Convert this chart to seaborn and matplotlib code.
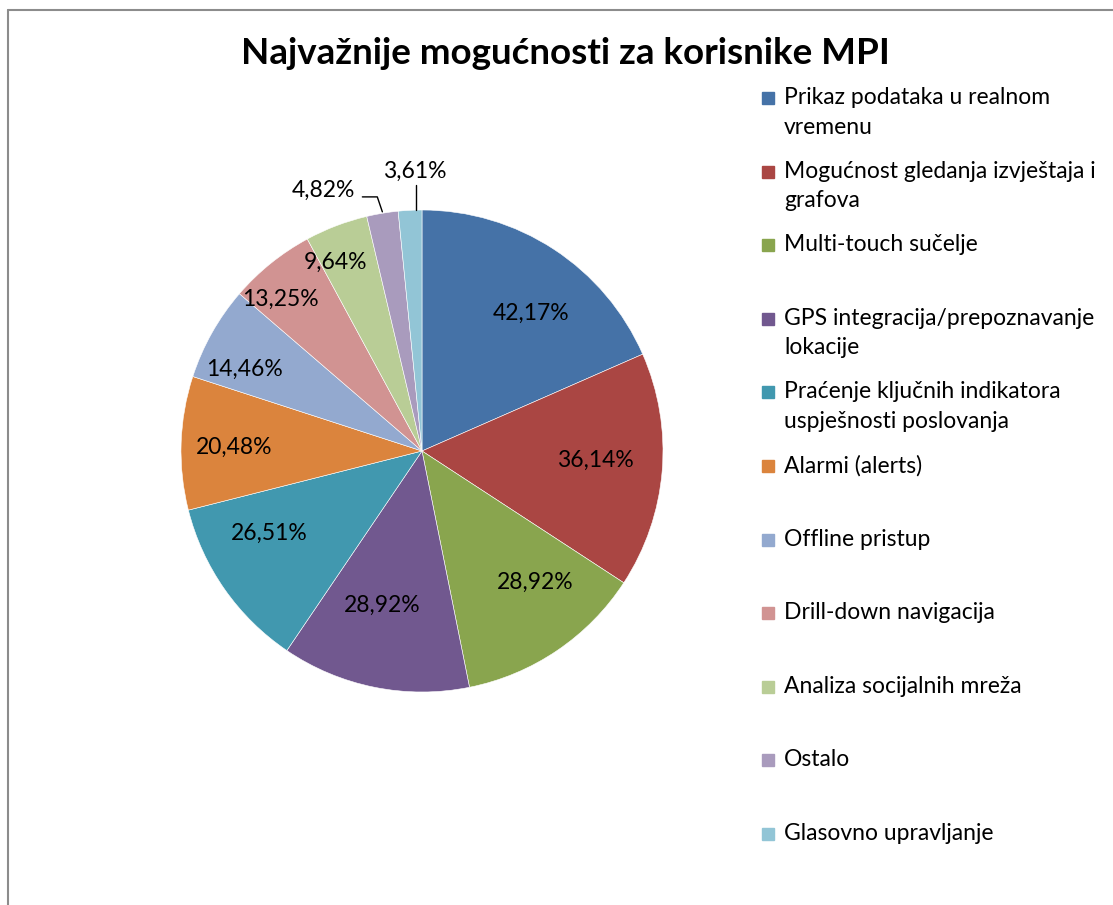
import numpy as np
import matplotlib
matplotlib.use('Agg')
import matplotlib.pyplot as plt
import seaborn as sns
from matplotlib.patches import Rectangle
from matplotlib.lines import Line2D

categories = [
    'Prikaz podataka u realnom\nvremenu',
    'Mogućnost gledanja izvještaja i\ngrafova',
    'Multi-touch sučelje',
    'GPS integracija/prepoznavanje\nlokacije',
    'Praćenje ključnih indikatora\nuspješnosti poslovanja',
    'Alarmi (alerts)',
    'Offline pristup',
    'Drill-down navigacija',
    'Analiza socijalnih mreža',
    'Ostalo',
    'Glasovno upravljanje',
]
values = [42.17, 36.14, 28.92, 28.92, 26.51, 20.48, 14.46, 13.25, 9.64, 4.82, 3.61]
colors = ['#4572A7', '#AA4643', '#89A54E', '#71588F', '#4198AF', '#DB843D',
          '#93A9CF', '#D19392', '#B9CD96', '#A99BBD', '#92C5D6']

# inside value labels: radius fraction and angle nudge (deg) from the wedge middle
label_r = [0.73, 0.72, 0.72, 0.66, 0.72, 0.78, 0.81, 0.86, 0.86, None, None]
label_da = [-5.3, 1.7, 6.7, -3.2, -6.9, 0.7, 4.7, 4.1, 3.9, 0, 0]

sns.set_style('white')
plt.rcParams['font.family'] = ['Lato', 'DejaVu Sans']

W, H = 1113, 905
fig = plt.figure(figsize=(W / 100, H / 100), dpi=100)

# chart frame (only left and top edges are visible)
fig.add_artist(Line2D([8 / W, 8 / W], [0, 1 - 10 / H], transform=fig.transFigure,
                      color='#8c8c8c', lw=1.5))
fig.add_artist(Line2D([8 / W, 1], [1 - 10 / H, 1 - 10 / H], transform=fig.transFigure,
                      color='#8c8c8c', lw=1.5))

cx, cy, r = 422, 451, 241
ax = fig.add_axes([(cx - r) / W, (H - cy - r) / H, 2 * r / W, 2 * r / H])
palette = sns.color_palette(colors)
wedges, _ = ax.pie(values, colors=palette, startangle=90, counterclock=False,
                   wedgeprops=dict(edgecolor='white', linewidth=0.4))
ax.set_aspect('equal')
ax.set_xlim(-1, 1)
ax.set_ylim(-1, 1)
ax.axis('off')

lab_fs = 16.5
for i, (w, v, lr, da) in enumerate(zip(wedges, values, label_r, label_da)):
    mid = (w.theta1 + w.theta2) / 2
    ang = np.deg2rad(mid)
    txt = f'{v:.2f}'.replace('.', ',') + '%'
    ex, ey = np.cos(ang), np.sin(ang)
    if lr is not None:
        a2 = np.deg2rad(mid + da)
        ax.text(lr * np.cos(a2), lr * np.sin(a2), txt, ha='center', va='center',
                fontsize=lab_fs, color='black')
    elif i == len(values) - 2:
        # label to the upper left, elbow leader line
        ax.text(ex - 0.112, ey + 0.097, txt, ha='right', va='center',
                fontsize=lab_fs, color='black')
        ax.plot([ex - 0.083, ex - 0.021, ex], [ey + 0.068, ey + 0.068, ey + 0.006],
                color='black', lw=1, clip_on=False)
    else:
        # label straight above, vertical leader line
        ax.text(ex + 0.019, ey + 0.161, txt, ha='center', va='center',
                fontsize=lab_fs, color='black')
        ax.plot([ex + 0.023, ex + 0.023], [ey + 0.107, ey + 0.003],
                color='black', lw=1, clip_on=False)

fig.text(565 / W, 1 - 53 / H, 'Najvažnije mogućnosti za korisnike MPI',
         ha='center', va='center', fontsize=26.5, fontweight='bold', color='black')

# legend
y0, step = 98, 73.6
for i, (lab, c) in enumerate(zip(categories, palette)):
    yy = y0 + i * step
    fig.add_artist(Rectangle((762 / W, 1 - (yy + 6) / H), 12 / W, 12 / H,
                             transform=fig.transFigure, color=c))
    fig.text(784 / W, 1 - (yy - 11) / H, lab, ha='left', va='top',
             fontsize=16.5, linespacing=1.5, color='black')

fig.savefig('out.png', dpi=100)
